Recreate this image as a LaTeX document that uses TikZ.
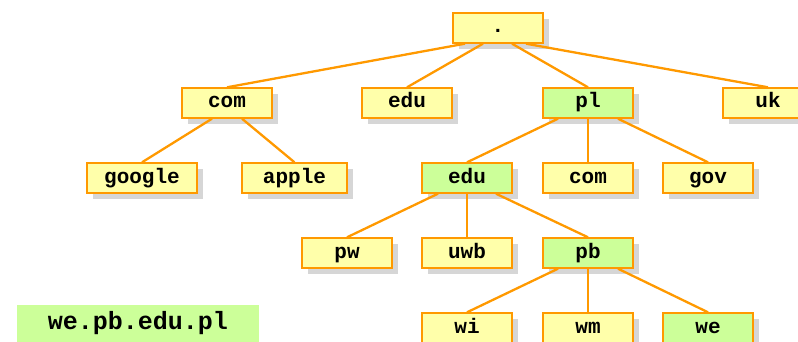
\documentclass[tikz,border=0pt]{standalone}
\usepackage{fontspec}
\setmonofont{Liberation Mono}
\usetikzlibrary{shadows,calc}
\definecolor{boxyellow}{HTML}{FFFFAA}
\definecolor{boxgreen}{HTML}{CCFF99}
\definecolor{edgeorange}{HTML}{FF9900}
\definecolor{shadowgray}{HTML}{D6D6D6}
\tikzset{
  dnsbox/.style={draw=edgeorange, line width=1.4pt, fill=boxyellow,
    minimum width=90pt, minimum height=30pt, inner sep=0pt,
    text height=15pt, text depth=5pt,
    font=\ttfamily\bfseries\fontsize{21}{21}\selectfont,
    drop shadow={shadow xshift=6pt, shadow yshift=-6pt, fill=shadowgray, opacity=1, draw=none}},
  greenbox/.style={dnsbox, fill=boxgreen},
  link/.style={draw=edgeorange, line width=2.3pt}
}
\begin{document}
\begin{tikzpicture}[x=1pt,y=-1pt]
\useasboundingbox (0,0) rectangle (798,342);
% label
\node[fill=boxgreen, minimum width=242pt, minimum height=37pt, inner sep=0pt,
  text height=17pt, text depth=6pt,
  font=\ttfamily\bfseries\fontsize{25}{25}\selectfont] (label) at (138,323.5) {we.pb.edu.pl};
% nodes
\node[dnsbox] (root) at (498,28) {.};
\node[dnsbox] (com) at (227,103) {com};
\node[dnsbox] (edu) at (407,103) {edu};
\node[greenbox] (pl) at (588,103) {pl};
\node[dnsbox] (uk) at (768,103) {uk};
\node[dnsbox, minimum width=110pt] (google) at (142,178) {google};
\node[dnsbox, minimum width=105pt] (apple) at (294.5,178) {apple};
\node[greenbox] (plEdu) at (467,178) {edu};
\node[dnsbox] (plCom) at (588,178) {com};
\node[dnsbox] (gov) at (708,178) {gov};
\node[dnsbox] (pw) at (347,253) {pw};
\node[dnsbox] (uwb) at (467,253) {uwb};
\node[greenbox] (pb) at (588,253) {pb};
\node[dnsbox] (wi) at (467,328) {wi};
\node[dnsbox] (wm) at (588,328) {wm};
\node[greenbox] (we) at (708,328) {we};
% connectors
\draw[link] ($(root.south)+(-33,0)$) -- (com.north);
\draw[link] ($(root.south)+(-15,0)$) -- (edu.north);
\draw[link] ($(root.south)+(14,0)$) -- (pl.north);
\draw[link] ($(root.south)+(28,0)$) -- (uk.north);
\draw[link] ($(com.south)+(-15,0)$) -- (google.north);
\draw[link] ($(com.south)+(15,0)$) -- (apple.north);
\draw[link] ($(pl.south)+(-30,0)$) -- (plEdu.north);
\draw[link] (pl.south) -- (plCom.north);
\draw[link] ($(pl.south)+(30,0)$) -- (gov.north);
\draw[link] ($(plEdu.south)+(-29,0)$) -- (pw.north);
\draw[link] (plEdu.south) -- (uwb.north);
\draw[link] ($(plEdu.south)+(29,0)$) -- (pb.north);
\draw[link] ($(pb.south)+(-30,0)$) -- (wi.north);
\draw[link] (pb.south) -- (wm.north);
\draw[link] ($(pb.south)+(30,0)$) -- (we.north);
\end{tikzpicture}
\end{document}
